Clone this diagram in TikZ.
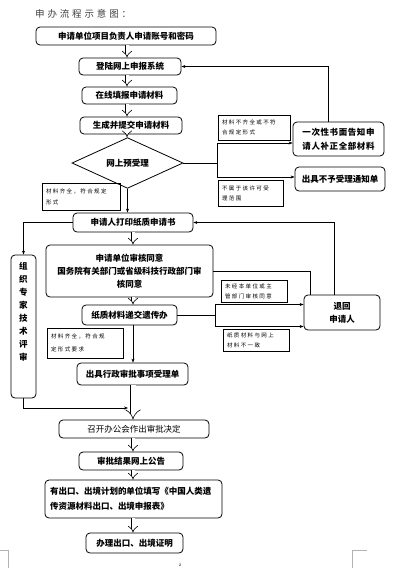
\documentclass[tikz,border=0pt]{standalone}
\usepackage{fontspec}
\newfontfamily\cjk{Noto Sans CJK SC}
\newfontfamily\cjkwide[LetterSpace=30]{Noto Sans CJK SC}
\newfontfamily\cjkmid[LetterSpace=7]{Noto Sans CJK SC}
\newfontfamily\cjknote[LetterSpace=25]{Noto Sans CJK SC}
\usetikzlibrary{arrows.meta, shapes.geometric}
\tikzset{
  stepbox/.style={
    draw, rounded corners=4pt,  % rounded step box
    line width=0.8pt, inner sep=1pt, align=center,
    font=\cjk\bfseries\fontsize{8.5}{12}\selectfont
  },
  notebox/.style={
    draw, line width=0.6pt, inner xsep=4pt, inner ysep=1pt, align=left,
    font=\cjknote\fontsize{5.5}{10}\selectfont
  },
  hollow/.style={double, double distance=3pt, line width=0.6pt, -{Implies}},
  link/.style={line width=0.6pt, -{Stealth[length=4pt, width=3pt]}},
  wire/.style={line width=0.6pt},
}

\begin{document}
\begin{tikzpicture}[x=1pt, y=-1pt]
    \useasboundingbox (0,0) rectangle (401,568);
    % spine of the flow
    \coordinate (spA) at (127,0);
    \coordinate (spB) at (133,0);

    % title
    \node[anchor=west, inner sep=0pt, text=black!75, font=\cjkwide\fontsize{9.5}{12}\selectfont] (title) at (35,14) {申办流程示意图：};

    % main steps
    \node[stepbox, minimum width=180pt, minimum height=18pt] (acct) at (126,36) {申请单位项目负责人申请账号和密码};
    \node[stepbox, minimum width=102pt, minimum height=17pt] (login) at (130,66.5) {登陆网上申报系统};
    \node[stepbox, minimum width=95pt, minimum height=17pt] (fill) at (129.5,95.5) {在线填报申请材料};
    \node[stepbox, minimum width=102pt, minimum height=17pt] (submit) at (131,125.5) {生成并提交申请材料};
    \node[draw, diamond, line width=0.8pt, minimum width=111pt, minimum height=32pt, inner sep=0pt,
      font=\cjk\bfseries\fontsize{8.5}{12}\selectfont] (check) at (127.5,163) {网上预受理};
    \node[stepbox, minimum width=120pt, minimum height=19pt] (print) at (133,222.5) {申请人打印纸质申请书};
    \node[stepbox, minimum width=167pt, minimum height=52pt, font=\cjk\bfseries\fontsize{8.5}{13}\selectfont] (unit) at (129.5,271)
      {申请单位审核同意\\国务院有关部门或省级科技行政部门审\\核同意};
    \node[stepbox, minimum width=95pt, minimum height=20pt] (paper) at (129.5,315) {纸质材料递交遗传办};
    \node[stepbox, minimum width=111pt, minimum height=22pt] (issue) at (132.5,374) {出具行政审批事项受理单};
    \node[stepbox, minimum width=150pt, minimum height=18pt, font=\cjk\fontsize{8.5}{12}\selectfont] (meet) at (134,429) {召开办公会作出审批决定};
    \node[stepbox, minimum width=104pt, minimum height=18pt] (notice) at (131,461) {审批结果网上公告};
    \node[stepbox, minimum width=177pt, minimum height=38pt, align=left, text width=167pt,
      font=\cjk\bfseries\fontsize{8.5}{15}\selectfont] (form) at (133.5,499)
      {有出口、出境计划的单位填写《中国人类遗\\传资源材料出口、出境申报表》};
    \node[stepbox, minimum width=97pt, minimum height=20pt] (cert) at (134.5,543) {办理出口、出境证明};

    % side boxes
    \node[stepbox, minimum width=91pt, minimum height=34pt, font=\cjkmid\bfseries\fontsize{8.5}{14}\selectfont] (notify) at (338.5,139)
      {一次性书面告知申\\请人补正全部材料};
    \node[stepbox, minimum width=90pt, minimum height=24pt] (reject) at (340,179) {出具不予受理通知单};
    \node[stepbox, minimum width=76pt, minimum height=35pt, font=\cjk\bfseries\fontsize{8.5}{13}\selectfont] (ret) at (342,312.5) {退回\\申请人};
    \node[stepbox, minimum width=25pt, minimum height=143pt] (exp) at (23.5,326.5) {};
    \node[anchor=north, inner sep=0pt, align=center, font=\cjk\bfseries\fontsize{8.5}{13}\selectfont] (exptext) at ([yshift=-7pt]exp.north)
      {组\\织\\专\\家\\技\\术\\评\\审};

    % condition notes
    \node[notebox, text width=64pt, minimum height=25pt] (n1) at (254,127.5) {材料不齐全或不符\\合规定形式};
    \node[notebox, text width=57pt, minimum height=26pt] (n2) at (250.5,193) {不属于该许可受\\理范围};
    \node[notebox, text width=70pt, minimum height=27pt, font=\cjknote\fontsize{5.5}{11}\selectfont] (n3) at (81,196.5) {材料齐全，符合规定\\形式};
    \node[notebox, text width=58pt, minimum height=22pt] (n4) at (254,291) {未经本单位或主\\管部门审核同意};
    \node[notebox, text width=58pt, minimum height=22pt] (n5) at (256,340) {纸质材料与网上\\材料不一致};
    \node[notebox, text width=68pt, minimum height=30pt, font=\cjknote\fontsize{5.5}{13}\selectfont] (n6) at (85,343) {材料齐全，符合规\\定形式要求};

    % hollow arrows down the spine
    \draw[hollow] (acct.south -| spA) -- (login.north -| spA);
    \draw[hollow] (login.south -| spA) -- (fill.north -| spA);
    \draw[hollow] (fill.south -| spA) -- (submit.north -| spA);
    \draw[hollow] (submit.south -| spA) -- (check.north -| spA);
    \draw[link] (check.south) -- (print.north -| check.south);
    \draw[hollow] (print.south -| spB) -- (unit.north -| spB);
    \draw[hollow] (unit.south -| spB) -- (paper.north -| spB);
    \draw[link] (paper.south -| spB) -- (issue.north -| spB);
    \draw[hollow, double distance=5pt] (issue.south -| spB) -- (meet.north -| spB);
    \draw[hollow] (meet.south -| spB) -- (notice.north -| spB);
    \draw[hollow] (notice.south -| spB) -- (form.north -| spB);
    \draw[hollow] (form.south -| spB) -- (cert.north -| spB);

    % branches of the pre-check
    \coordinate (fork) at (217,163);
    \draw[wire] (check.east) -- (fork);
    \draw[link] (fork) |- ([yshift=-4pt]notify.west);
    \draw[link] (fork) |- ([yshift=2pt]reject.west);
    \draw[link] ([xshift=-10pt]notify.north) |- (login.east);

    % expert review loop
    \coordinate (merge) at (128,408);
    \draw[link] (print.west) -| (exp.north);
    \draw[link] (exp.south) |- (merge);

    % returns to applicant
    \coordinate (split) at (215,315);
    \draw[link] ([xshift=-8pt]ret.north) |- (print.east);
    \draw[wire] (unit.east) -| ([xshift=-32pt]ret.north);
    \draw[wire] (paper.east) -- (split);
    \draw[link] (split) |- ([yshift=8pt]ret.west);
    \draw[link] (split) |- ([yshift=-14pt]ret.west);

    % page marks
    \draw[gray!60, line width=0.5pt] (0,550) -- (8,550) -- (8,568);
    \draw[gray!60, line width=0.5pt] (367,550) -- (352,550) -- (352,568);
    \node[inner sep=0pt, font=\fontsize{4}{4}\selectfont] (pageno) at (180,565.5) {2};
\end{tikzpicture}
\end{document}
